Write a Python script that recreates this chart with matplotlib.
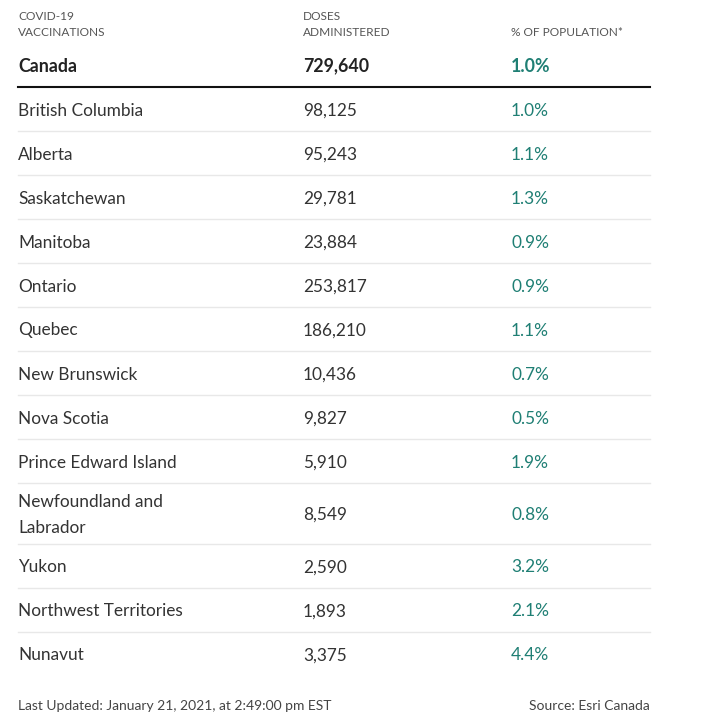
import matplotlib.pyplot as plt

# data
regions = ['British Columbia', 'Alberta', 'Saskatchewan', 'Manitoba', 'Ontario',
           'Quebec', 'New Brunswick', 'Nova Scotia', 'Prince Edward Island',
           'Newfoundland and\nLabrador', 'Yukon', 'Northwest Territories', 'Nunavut']
doses = [98125, 95243, 29781, 23884, 253817, 186210, 10436, 9827, 5910,
         8549, 2590, 1893, 3375]
pct = [1.0, 1.1, 1.3, 0.9, 0.9, 1.1, 0.7, 0.5, 1.9, 0.8, 3.2, 2.1, 4.4]
total_name = 'Canada'
total_doses = 729640
total_pct = 1.0

plt.rcParams['font.family'] = ['Lato', 'DejaVu Sans']

fig = plt.figure(figsize=(7.16, 7.16), dpi=100)
ax = fig.add_axes([0, 0, 1, 1])
ax.set_xlim(0, 716)
ax.set_ylim(716, 0)
ax.axis('off')

TXT = '#333333'
TEAL = '#1f7f74'
HEAD = '#555555'
x_name, x_dose, x_pct, x_end = 18, 303, 511, 650

# header
hs = 8.6
ax.text(x_name, 16, 'COVID-19', fontsize=hs, color=HEAD, va='center')
ax.text(x_name, 32, 'VACCINATIONS', fontsize=hs, color=HEAD, va='center')
ax.text(x_dose, 16, 'DOSES', fontsize=hs, color=HEAD, va='center')
ax.text(x_dose, 32, 'ADMINISTERED', fontsize=hs, color=HEAD, va='center')
ax.text(x_pct, 32, '% OF POPULATION*', fontsize=hs, color=HEAD, va='center')

fs = 12.4
ax.text(x_name, 66, total_name, fontsize=12.8, color='#222222', weight='bold', va='center')
ax.text(x_dose, 66, f'{total_doses:,}', fontsize=12.8, color='#222222', weight='bold', va='center')
ax.text(x_pct, 66, f'{total_pct:.1f}%', fontsize=12.8, color=TEAL, weight='bold', va='center')
ax.plot([x_name, x_end], [86.5, 86.5], color='#111111', lw=1.5)

y = 87
for name, d, p in zip(regions, doses, pct):
    h = 61 if '\n' in name else 44
    yc = y + h / 2 + 1.5
    ax.text(x_name, yc, name, fontsize=fs, color=TXT, va='center', linespacing=1.7)
    ax.text(x_dose, yc, f'{d:,}', fontsize=fs, color=TXT, va='center')
    ax.text(x_pct, yc, f'{p:.1f}%', fontsize=fs, color=TEAL, va='center')
    y += h
    if name != regions[-1]:
        ax.plot([x_name, x_end], [y, y], color='#e8e8e8', lw=1)

ax.text(x_name, 706, 'Last Updated: January 21, 2021, at 2:49:00 pm EST',
        fontsize=10, color='#444444', va='center')
ax.text(x_end, 706, 'Source: Esri Canada', fontsize=10, color='#444444',
        va='center', ha='right')

plt.savefig('out.png', dpi=100)
